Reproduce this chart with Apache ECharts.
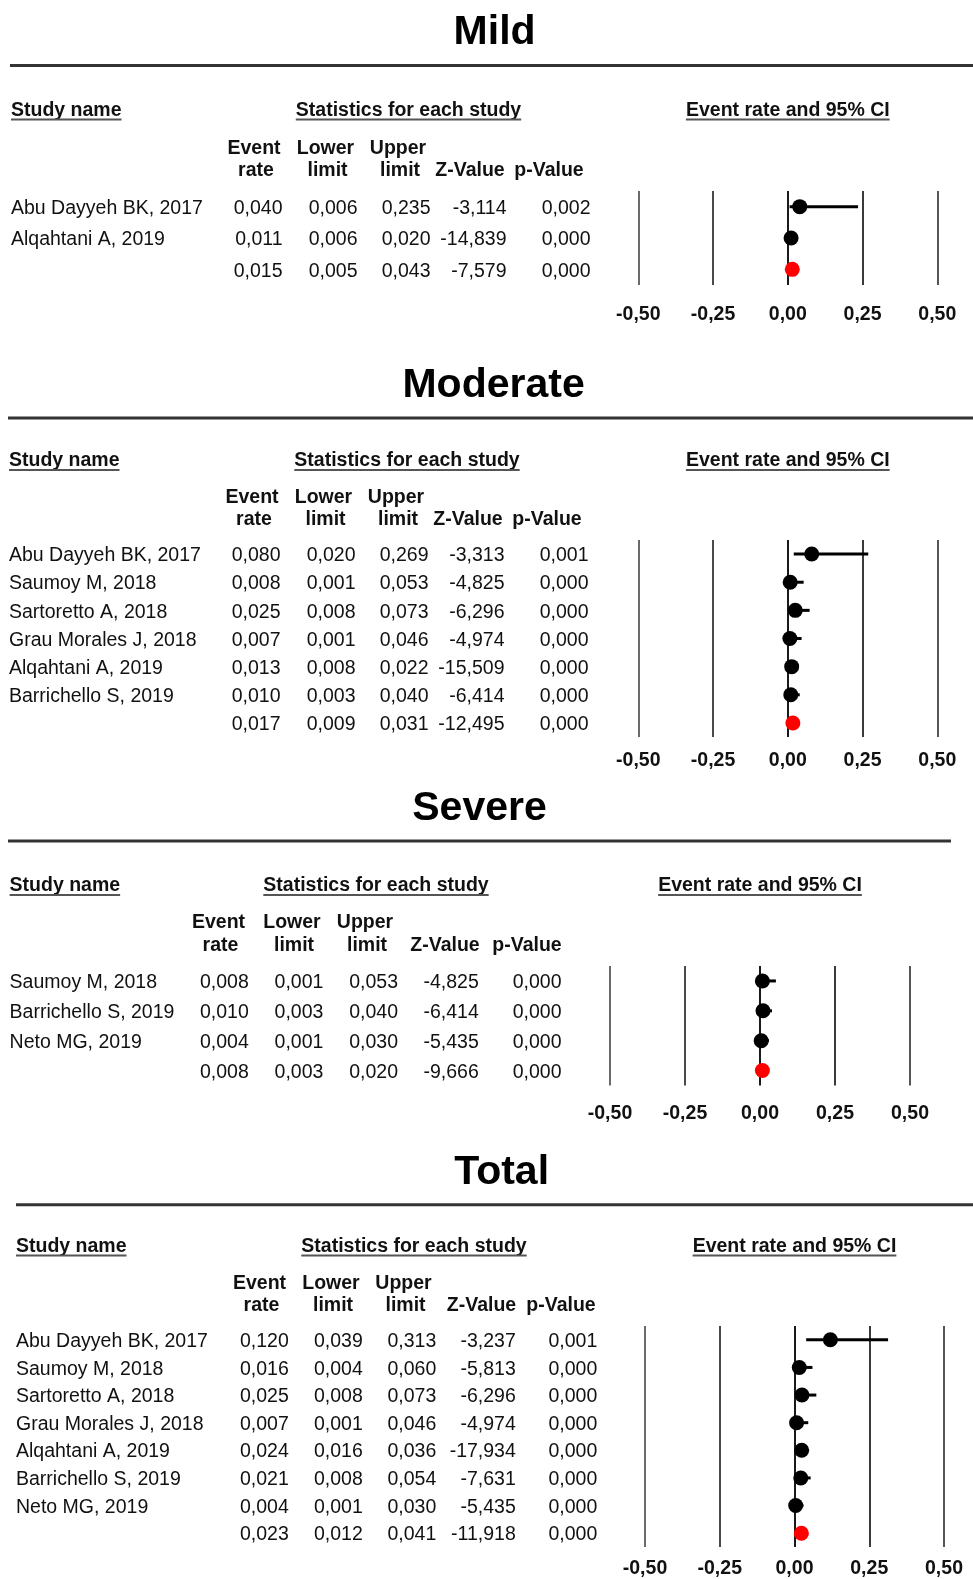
<!DOCTYPE html>
<html>
<head>
<meta charset="utf-8">
<script src="https://cdn.jsdelivr.net/npm/echarts@6/dist/echarts.min.js"></script>
<style>
  html, body { margin: 0; padding: 0; background: #fff; }
  #chart { width: 973px; height: 1579px; }
</style>
</head>
<body>
<div id="chart"></div>
<script>
// ---------------- DATA ----------------
const tickLabels = ['-0,50', '-0,25', '0,00', '0,25', '0,50'];
const columnHeads = [['Event', 'rate'], ['Lower', 'limit'], ['Upper', 'limit'], ['', 'Z-Value'], ['', 'p-Value']];

const mildNames = ['Abu Dayyeh BK, 2017', 'Alqahtani A, 2019', ''];
const mildEvent = [0.040, 0.011, 0.015];
const mildLower = [0.006, 0.006, 0.005];
const mildUpper = [0.235, 0.020, 0.043];
const mildZ     = [-3.114, -14.839, -7.579];
const mildP     = [0.002, 0.000, 0.000];

const modNames = ['Abu Dayyeh BK, 2017', 'Saumoy M, 2018', 'Sartoretto A, 2018', 'Grau Morales J, 2018', 'Alqahtani A, 2019', 'Barrichello S, 2019', ''];
const modEvent = [0.080, 0.008, 0.025, 0.007, 0.013, 0.010, 0.017];
const modLower = [0.020, 0.001, 0.008, 0.001, 0.008, 0.003, 0.009];
const modUpper = [0.269, 0.053, 0.073, 0.046, 0.022, 0.040, 0.031];
const modZ     = [-3.313, -4.825, -6.296, -4.974, -15.509, -6.414, -12.495];
const modP     = [0.001, 0.000, 0.000, 0.000, 0.000, 0.000, 0.000];

const sevNames = ['Saumoy M, 2018', 'Barrichello S, 2019', 'Neto MG, 2019', ''];
const sevEvent = [0.008, 0.010, 0.004, 0.008];
const sevLower = [0.001, 0.003, 0.001, 0.003];
const sevUpper = [0.053, 0.040, 0.030, 0.020];
const sevZ     = [-4.825, -6.414, -5.435, -9.666];
const sevP     = [0.000, 0.000, 0.000, 0.000];

const totNames = ['Abu Dayyeh BK, 2017', 'Saumoy M, 2018', 'Sartoretto A, 2018', 'Grau Morales J, 2018', 'Alqahtani A, 2019', 'Barrichello S, 2019', 'Neto MG, 2019', ''];
const totEvent = [0.120, 0.016, 0.025, 0.007, 0.024, 0.021, 0.004, 0.023];
const totLower = [0.039, 0.004, 0.008, 0.001, 0.016, 0.008, 0.001, 0.012];
const totUpper = [0.313, 0.060, 0.073, 0.046, 0.036, 0.054, 0.030, 0.041];
const totZ     = [-3.237, -5.813, -6.296, -4.974, -17.934, -7.631, -5.435, -11.918];
const totP     = [0.001, 0.000, 0.000, 0.000, 0.000, 0.000, 0.000, 0.000];

// ---------------- LAYOUT ----------------
const FONT = '"Liberation Sans", Arial, Helvetica, sans-serif';
const FS = 19.5;
const INK = '#111';
const TEXT_DY = 1.8;

const sections = [
  { title: 'Mild', names: mildNames, ev: mildEvent, lo: mildLower, up: mildUpper, z: mildZ, p: mildP,
    titleX: 494.6, titleY: 30.5, lineY: 65.5, lineX1: 10, lineX2: 973,
    headY: 108.5, nameX: 11, statsX: 408.5, colY: [146.5, 168.5],
    R: [282.5, 357.5, 430.5, 506.5, 590.5], H: [254, 325.5, 398, 470, 549],
    grid: { left: 638.3, top: 191, width: 299, height: 94 }, margin: 30 },
  { title: 'Moderate', names: modNames, ev: modEvent, lo: modLower, up: modUpper, z: modZ, p: modP,
    titleX: 493.6, titleY: 384, lineY: 418, lineX1: 8, lineX2: 973,
    headY: 459, nameX: 9, statsX: 407, colY: [496, 518],
    R: [280.5, 355.5, 428.5, 504.5, 588.5], H: [252, 323.5, 396, 468, 547],
    grid: { left: 638.3, top: 540, width: 299, height: 197 }, margin: 23.5 },
  { title: 'Severe', names: sevNames, ev: sevEvent, lo: sevLower, up: sevUpper, z: sevZ, p: sevP,
    titleX: 479.5, titleY: 807, lineY: 841, lineX1: 8, lineX2: 951,
    headY: 884, nameX: 9.6, statsX: 376, colY: [921, 944],
    R: [248.8, 323.4, 398, 478.8, 561.5], H: [218.5, 292, 365, 445, 527],
    grid: { left: 610, top: 966, width: 300, height: 119.5 }, margin: 28.5 },
  { title: 'Total', names: totNames, ev: totEvent, lo: totLower, up: totUpper, z: totZ, p: totP,
    titleX: 501.6, titleY: 1170.5, lineY: 1204.7, lineX1: 16, lineX2: 973,
    headY: 1244.5, nameX: 16, statsX: 414, colY: [1281.5, 1304],
    R: [288.8, 362.8, 436.3, 515.8, 597.3], H: [259.5, 331, 403.5, 481.5, 561],
    grid: { left: 645, top: 1326, width: 299, height: 221 }, margin: 22 }
];

const fmt = v => v.toFixed(3).replace('.', ',');

const mctx = document.createElement('canvas').getContext('2d');
function measure(text, size, weight) {
  mctx.font = weight + ' ' + size + 'px ' + FONT;
  return mctx.measureText(text).width;
}

function txt(text, x, y, opts) {
  opts = opts || {};
  const align = opts.align || 'left';
  const va = opts.va || 'middle';
  return {
    type: 'text', x: x, y: y + TEXT_DY, silent: true,
    style: {
      text: text, fill: opts.color || INK,
      fontSize: opts.size || FS, fontWeight: opts.weight || 'normal', fontFamily: FONT,
      align: align, verticalAlign: va, textAlign: align, textVerticalAlign: va
    }
  };
}

const graphics = [];
const grids = [], xAxes = [], yAxes = [], series = [];

sections.forEach((s, gi) => {
  const centerCI = s.grid.left + s.grid.width / 2;
  graphics.push(txt(s.title, s.titleX, s.titleY, { align: 'center', size: 41, weight: 'bold', color: '#000' }));
  graphics.push({ type: 'line', silent: true, shape: { x1: s.lineX1, y1: s.lineY, x2: s.lineX2, y2: s.lineY },
                  style: { stroke: '#333', lineWidth: 3 } });
  const heads = [
    { t: 'Study name', x: s.nameX, align: 'left' },
    { t: 'Statistics for each study', x: s.statsX, align: 'center' },
    { t: 'Event rate and 95% CI', x: centerCI, align: 'center' }
  ];
  heads.forEach(h => {
    graphics.push(txt(h.t, h.x, s.headY, { align: h.align, weight: 'bold' }));
    const w = measure(h.t, FS, 'bold');
    const x1 = h.align === 'left' ? h.x : h.x - w / 2;
    graphics.push({ type: 'line', silent: true,
      shape: { x1: x1, y1: s.headY + 11, x2: x1 + w, y2: s.headY + 11 },
      style: { stroke: '#555', lineWidth: 2 } });
  });
  columnHeads.forEach((pair, ci) => {
    if (pair[0]) graphics.push(txt(pair[0], s.H[ci], s.colY[0], { align: 'center', weight: 'bold' }));
    graphics.push(txt(pair[1], s.H[ci] + (pair[0] ? 2 : 0), s.colY[1], { align: 'center', weight: 'bold' }));
  });

  grids.push({ left: s.grid.left, top: s.grid.top, width: s.grid.width, height: s.grid.height, containLabel: false });
  xAxes.push({
    type: 'value', gridIndex: gi, min: -0.5, max: 0.5, interval: 0.25,
    axisLine: { show: false }, axisTick: { show: false },
    splitLine: { show: true, lineStyle: { color: ['#6a6a6a', '#4a4a4a', '#1a1a1a', '#3a3a3a', '#555555'], width: 2 } },
    axisLabel: {
      margin: s.margin, verticalAlign: 'middle', color: INK, fontSize: FS, fontWeight: 'bold', fontFamily: FONT,
      formatter: v => tickLabels[Math.round((v + 0.5) / 0.25)]
    }
  });
  yAxes.push({
    type: 'category', gridIndex: gi, inverse: true, data: s.names.map((n, i) => n || ('summary' + i)),
    boundaryGap: true, show: false
  });

  const n = s.names.length;
  series.push({
    type: 'custom', xAxisIndex: gi, yAxisIndex: gi, clip: false, silent: true, z: 1,
    encode: { x: 0, y: 1 },
    data: s.names.map((_, i) => [0, i]),
    renderItem: (params, api) => {
      const i = api.value(1);
      const y = api.coord([0, i])[1];
      const vals = [fmt(s.ev[i]), fmt(s.lo[i]), fmt(s.up[i]), fmt(s.z[i]), fmt(s.p[i])];
      const children = [];
      if (s.names[i]) children.push(txt(s.names[i], s.nameX, y));
      vals.forEach((v, ci) => children.push(txt(v, s.R[ci], y, { align: 'right' })));
      return { type: 'group', children: children };
    }
  });
  series.push({
    type: 'custom', xAxisIndex: gi, yAxisIndex: gi, clip: false, silent: true, z: 2,
    encode: { x: [0, 1], y: 2 },
    data: s.names.map((nm, i) => [s.lo[i], s.up[i], i]).slice(0, n - 1),
    renderItem: (params, api) => {
      const a = api.coord([api.value(0), api.value(2)]);
      const b = api.coord([api.value(1), api.value(2)]);
      return { type: 'line', shape: { x1: a[0], y1: a[1], x2: b[0], y2: b[1] },
               style: { stroke: '#000', lineWidth: 3 } };
    }
  });
  series.push({
    type: 'scatter', xAxisIndex: gi, yAxisIndex: gi, silent: true, z: 3,
    symbol: 'circle', symbolSize: 15,
    data: s.ev.map((v, i) => ({ value: [v, i], itemStyle: { color: i === n - 1 ? '#ff0000' : '#000', opacity: 1 } }))
  });
});

const chart = echarts.init(document.getElementById('chart'), null, { renderer: 'canvas' });
chart.setOption({
  animation: false,
  backgroundColor: '#fff',
  grid: grids, xAxis: xAxes, yAxis: yAxes, series: series,
  graphic: { elements: graphics }
});
</script>
</body>
</html>
